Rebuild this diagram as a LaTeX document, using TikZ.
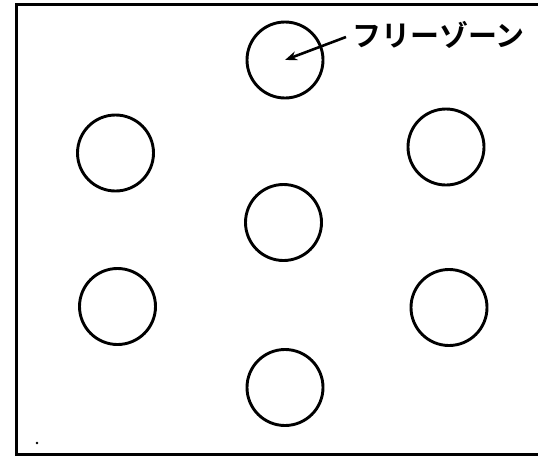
\documentclass[tikz,border=0pt]{standalone}
\usepackage{fontspec}
\newfontfamily\jpfont{Noto Sans CJK JP Bold}
\usetikzlibrary{arrows.meta}
\tikzset{
  hole/.style={draw=black, line width=2.9pt, circle, minimum size=76pt, inner sep=0pt},
  frame/.style={draw=black, line width=3pt},
  pointer/.style={draw=black, line width=2.6pt, -{Stealth[length=12pt,width=9pt]}},
  lbl/.style={font=\jpfont\fontsize{29}{33}\selectfont, inner sep=0pt, anchor=west}
}
\begin{document}
\begin{tikzpicture}[x=1pt,y=-1pt]
\useasboundingbox (0,0) rectangle (538,458);
\draw[frame] (545,4.5) -- (16.5,4.5) -- (16.5,454.5) -- (545,454.5);
\node[hole] (top) at (285,60) {};
\node[hole] (ul) at (115.5,153) {};
\node[hole] (ur) at (446,147) {};
\node[hole] (mid) at (283.5,222.5) {};
\node[hole] (ll) at (117.5,306.5) {};
\node[hole] (lr) at (449,307.5) {};
\node[hole] (bot) at (285,387.5) {};
\node[lbl] (label) at (352,35) {フリーゾーン};
\coordinate (tail) at (346,37);
\draw[pointer] (tail) -- (top.center);
\fill (37,443) circle (1.3pt);
\end{tikzpicture}
\end{document}
